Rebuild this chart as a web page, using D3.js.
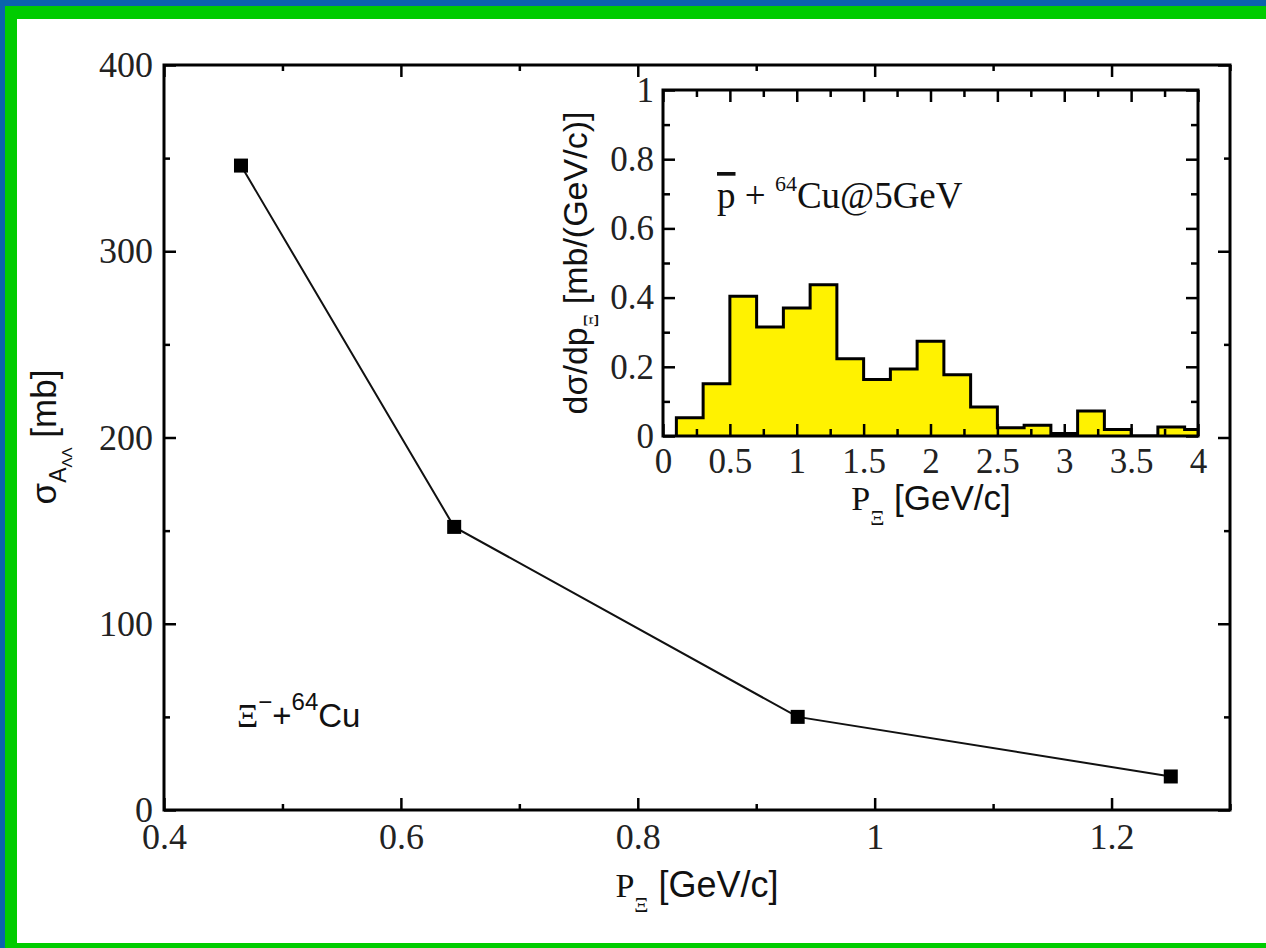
<!DOCTYPE html>
<html>
<head>
<meta charset="utf-8">
<script src="https://cdn.jsdelivr.net/npm/d3@7"></script>
<style>
  html, body { margin: 0; padding: 0; background: #fff; }
  svg { display: block; }
  .serif { font-family: "Liberation Serif", "Times New Roman", serif; }
  .sans { font-family: "Liberation Sans", Arial, sans-serif; }
</style>
</head>
<body>
<div id="chart"></div>
<script>
// main plot: cross section vs momentum
const momenta = [0.465, 0.645, 0.935, 1.25];
const sigma = [346, 152, 50, 18];

// inset histogram: bin lower edges (width 0.2) and heights
const binLow = [0.1, 0.3, 0.5, 0.7, 0.9, 1.1, 1.3, 1.5, 1.7, 1.9, 2.1, 2.3, 2.5, 2.7, 2.9, 3.1, 3.3, 3.5, 3.7, 3.9];
const binVal = [0.053, 0.151, 0.404, 0.315, 0.37, 0.437, 0.223, 0.163, 0.194, 0.274, 0.177, 0.084, 0.024, 0.031, 0.007, 0.072, 0.019, 0, 0.026, 0.019];
const binWidth = 0.2;

const mainXTicks = [0.4, 0.6, 0.8, 1, 1.2];
const mainYTicks = [0, 100, 200, 300, 400];
const insetXTicks = [0, 0.5, 1, 1.5, 2, 2.5, 3, 3.5, 4];
const insetYTicks = [0, 0.2, 0.4, 0.6, 0.8, 1];

const W = 1266, H = 948;
const svg = d3.select('#chart').append('svg').attr('width', W).attr('height', H);

// frame: blue and green border
svg.append('rect').attr('width', W).attr('height', H).attr('fill', '#0b63ad');
svg.append('rect').attr('x', 5).attr('y', 6).attr('width', W - 5).attr('height', H - 6).attr('fill', '#00cc00');
svg.append('rect').attr('x', 17).attr('y', 19).attr('width', W - 17).attr('height', 943 - 19).attr('fill', '#fff');

// four-sided box with inward ticks, labels only on bottom and left
function drawAxes(g, xs, ys, o) {
  const [x0, x1] = xs.range();
  const [y0, y1] = ys.range();
  const axes = [
    [d3.axisBottom(xs), `translate(0,${y0})`, o.xMaj, o.xMin, o.fmtX, 'b'],
    [d3.axisTop(xs), `translate(0,${y1})`, o.xMaj, o.xMin, null, 't'],
    [d3.axisLeft(ys), `translate(${x0},0)`, o.yMaj, o.yMin, o.fmtY, 'l'],
    [d3.axisRight(ys), `translate(${x1},0)`, o.yMaj, o.yMin, null, 'r']
  ];
  axes.forEach(([ax, tr, maj, min, fmt, side]) => {
    g.append('g').attr('transform', tr)
      .call(ax.tickValues(min).tickSize(-o.minLen).tickFormat(''))
      .call(s => s.select('.domain').remove())
      .selectAll('line').attr('stroke', '#000').attr('stroke-width', 2.5);
    const a = g.append('g').attr('transform', tr)
      .call(ax.tickValues(maj).tickSize(-o.majLen).tickPadding(o.pad).tickFormat(fmt || (() => '')))
      .call(s => s.select('.domain').remove());
    a.selectAll('line').attr('stroke', '#000').attr('stroke-width', 2.5);
    const t = a.selectAll('text').attr('class', 'serif').attr('font-size', o.fontSize)
      .attr('fill', '#222').attr('font-family', null);
    if (side === 'b') t.attr('y', o.xBase).attr('dy', 0);
  });
  g.append('rect').attr('x', x0).attr('y', y1).attr('width', x1 - x0).attr('height', y0 - y1)
    .attr('fill', 'none').attr('stroke', '#000').attr('stroke-width', 3);
}

// ---------- main plot ----------
const x = d3.scaleLinear().domain([0.4, 1.3]).range([164, 1230]);
const y = d3.scaleLinear().domain([0, 400]).range([810, 65]);
const main = svg.append('g');

drawAxes(main, x, y, {
  xMaj: mainXTicks, xMin: [0.5, 0.7, 0.9, 1.1, 1.3],
  yMaj: mainYTicks, yMin: [50, 150, 250, 350],
  majLen: 12, minLen: 6, pad: 11, fontSize: 36, xBase: 39,
  fmtX: d3.format('~g'), fmtY: d3.format('d')
});

const pts = momenta.map((m, i) => [m, sigma[i]]);
main.append('path').datum(pts)
  .attr('d', d3.line().x(d => x(d[0])).y(d => y(d[1])))
  .attr('fill', 'none').attr('stroke', '#111').attr('stroke-width', 2);
main.selectAll('rect.pt').data(pts).join('rect').attr('class', 'pt')
  .attr('x', d => x(d[0]) - 7).attr('y', d => y(d[1]) - 7)
  .attr('width', 14).attr('height', 14).attr('fill', '#000');

// main axis titles
const mxt = main.append('text').attr('x', 697).attr('y', 897).attr('text-anchor', 'middle').attr('font-size', 36).attr('fill', '#111');
mxt.append('tspan').attr('class', 'serif').attr('font-size', 34).text('P');
mxt.append('tspan').attr('class', 'serif').attr('font-size', 22).attr('dy', 15).text('Ξ');
mxt.append('tspan').attr('class', 'sans').attr('dy', -15).text(' [GeV/c]');

const myt = main.append('text').attr('transform', 'translate(56,437) rotate(-90)')
  .attr('text-anchor', 'middle').attr('font-size', 35).attr('fill', '#111').attr('class', 'sans');
myt.append('tspan').text('σ');
myt.append('tspan').attr('font-size', 23).attr('dy', 10).text('A');
myt.append('tspan').attr('font-size', 15).attr('dy', 6).text('ΛΛ');
myt.append('tspan').attr('dy', -16).text(' [mb]');

const lab1 = main.append('text').attr('x', 237).attr('y', 727).attr('font-size', 33).attr('fill', '#111').attr('class', 'sans');
lab1.append('tspan').attr('class', 'serif').text('Ξ');
lab1.append('tspan').attr('font-size', 24).attr('dy', -17).text('−');
lab1.append('tspan').attr('dy', 17).text('+');
lab1.append('tspan').attr('font-size', 24).attr('dy', -17).text('64');
lab1.append('tspan').attr('dy', 17).text('Cu');

// ---------- inset ----------
const ix = d3.scaleLinear().domain([0, 4]).range([663, 1198]);
const iy = d3.scaleLinear().domain([0, 1]).range([436, 90]);
const inset = svg.append('g');

inset.append('clipPath').attr('id', 'iclip').append('rect')
  .attr('x', 663).attr('y', 90).attr('width', 1198 - 663).attr('height', 436 - 90);

const steps = [[binLow[0], 0]];
binLow.forEach((lo, i) => {
  steps.push([lo, binVal[i]]);
  steps.push([lo + binWidth, binVal[i]]);
});
steps.push([binLow[binLow.length - 1] + binWidth, 0]);

inset.append('path').datum(steps).attr('clip-path', 'url(#iclip)')
  .attr('d', d3.line().x(d => ix(d[0])).y(d => iy(d[1])))
  .attr('fill', '#fff200').attr('stroke', '#000').attr('stroke-width', 3).attr('stroke-linejoin', 'miter');

drawAxes(inset, ix, iy, {
  xMaj: insetXTicks, xMin: [0.25, 0.75, 1.25, 1.75, 2.25, 2.75, 3.25, 3.75],
  yMaj: insetYTicks, yMin: [0.1, 0.3, 0.5, 0.7, 0.9],
  majLen: 12, minLen: 7, pad: 9, fontSize: 35, xBase: 37,
  fmtX: d3.format('~g'), fmtY: d3.format('~g')
});

const ixt = inset.append('text').attr('x', 931).attr('y', 510).attr('text-anchor', 'middle').attr('font-size', 35).attr('fill', '#111');
ixt.append('tspan').attr('class', 'serif').attr('font-size', 34).text('P');
ixt.append('tspan').attr('class', 'serif').attr('font-size', 22).attr('dy', 15).text('Ξ');
ixt.append('tspan').attr('class', 'sans').attr('dy', -15).text(' [GeV/c]');

const iyt = inset.append('text').attr('transform', 'translate(587,263) rotate(-90)')
  .attr('text-anchor', 'middle').attr('font-size', 34).attr('fill', '#111').attr('class', 'sans');
iyt.append('tspan').text('dσ/dp');
iyt.append('tspan').attr('class', 'serif').attr('font-size', 21).attr('dy', 11).text('Ξ');
iyt.append('tspan').attr('dy', -11).text(' [mb/(GeV/c)]');

const lab2 = inset.append('text').attr('x', 717).attr('y', 208).attr('font-size', 37).attr('fill', '#111').attr('class', 'serif');
lab2.append('tspan').attr('text-decoration', 'overline').text('p');
lab2.append('tspan').text(' + ');
lab2.append('tspan').attr('font-size', 22).attr('dy', -17).text('64');
lab2.append('tspan').attr('dy', 17).text('Cu@5GeV');
</script>
</body>
</html>
